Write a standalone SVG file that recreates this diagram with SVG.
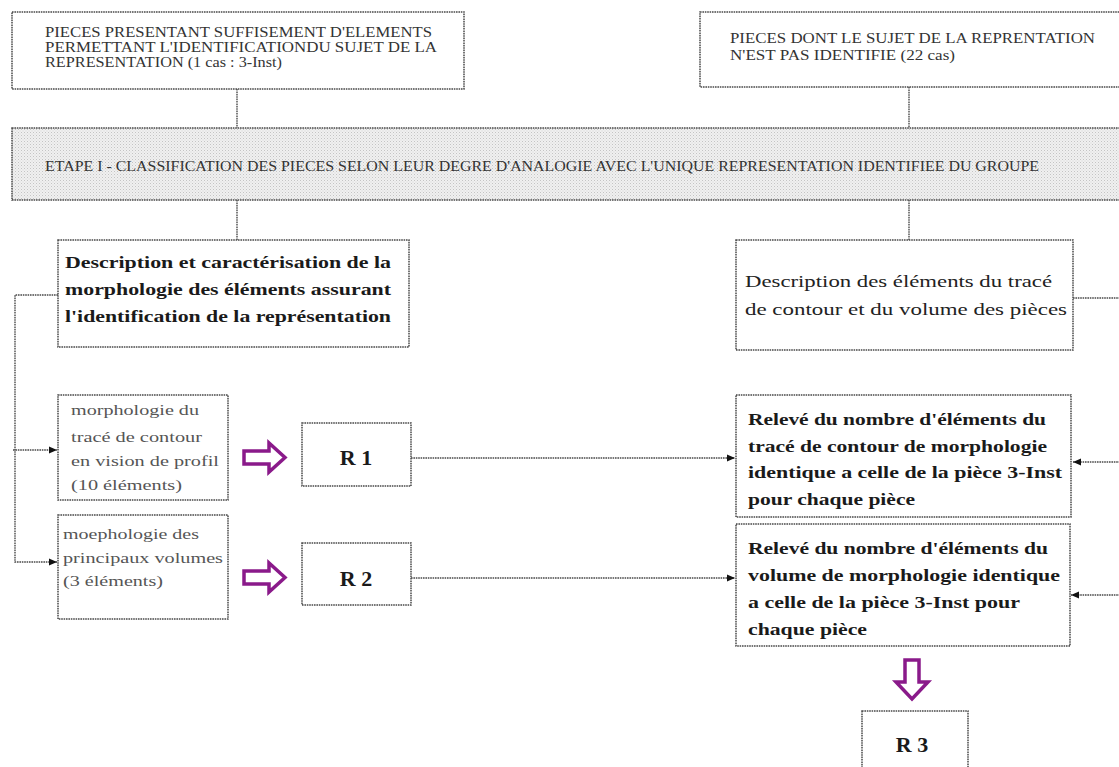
<svg xmlns="http://www.w3.org/2000/svg" width="1119" height="767" viewBox="0 0 1119 767">
<style>
  .box { fill: #ffffff; stroke: #4a4a4a; stroke-width: 1.5; stroke-dasharray: 1.6 0.8; }
  .band { fill: url(#dots); stroke: #4a4a4a; stroke-width: 1.5; stroke-dasharray: 1.6 0.8; }
  .conn { fill: none; stroke: #4a4a4a; stroke-width: 1.4; stroke-dasharray: 1.6 0.8; }
  .caps { font-family: "Liberation Serif", serif; font-size: 14px; fill: #333; }
  .bold { font-family: "Liberation Serif", serif; font-size: 17px; font-weight: bold; fill: #1a1a1a; }
  .reg { font-family: "Liberation Serif", serif; font-size: 17px; fill: #222; }
  .gray { font-family: "Liberation Serif", serif; font-size: 15px; fill: #555; }
  .r { font-family: "Liberation Serif", serif; font-size: 22px; font-weight: bold; fill: #1a1a1a; text-anchor: middle; }
  .purple { fill: #ffffff; stroke: #8a1a8a; stroke-width: 3.5; stroke-linejoin: miter; }
</style>
<defs>
  <pattern id="dots" width="3" height="3" patternUnits="userSpaceOnUse">
    <rect width="3" height="3" fill="#f0f0f0"/>
    <rect x="0" y="0" width="1" height="1" fill="#c4c4c4"/>
    <rect x="1.5" y="1.5" width="1" height="1" fill="#d4d4d4"/>
  </pattern>
  <marker id="arr" markerWidth="9" markerHeight="9" refX="8" refY="4.5" orient="auto" markerUnits="userSpaceOnUse">
    <path d="M0,1 L8,4.5 L0,8 Z" fill="#111"/>
  </marker>
</defs>
<rect width="1119" height="767" fill="#ffffff"/>

<g id="connectors">
  <path class="conn" d="M237,89 V128"/>
  <path class="conn" d="M909,87 V128"/>
  <path class="conn" d="M237,200 V240"/>
  <path class="conn" d="M909,200 V240"/>
  <path class="conn" d="M58,295 H15 V562 H57" marker-end="url(#arr)"/>
  <path class="conn" d="M13,450 H57" marker-end="url(#arr)"/>
  <path class="conn" d="M411,458 H735" marker-end="url(#arr)"/>
  <path class="conn" d="M411,578 H735" marker-end="url(#arr)"/>
  <path class="conn" d="M1073,298 H1125"/>
  <path class="conn" d="M1125,462 H1073" marker-end="url(#arr)"/>
  <path class="conn" d="M1125,595 H1071" marker-end="url(#arr)"/>
</g>

<g id="top-left">
  <rect class="box" x="12" y="12" width="452" height="77"/>
  <text class="caps" x="45" y="37" textLength="387" lengthAdjust="spacingAndGlyphs">PIECES PRESENTANT SUFFISEMENT D'ELEMENTS</text>
  <text class="caps" x="45" y="52" textLength="392" lengthAdjust="spacingAndGlyphs">PERMETTANT L'IDENTIFICATIONDU SUJET DE LA</text>
  <text class="caps" x="45" y="67" textLength="237" lengthAdjust="spacingAndGlyphs">REPRESENTATION (1 cas : 3-Inst)</text>
</g>

<g id="top-right">
  <rect class="box" x="700" y="12" width="440" height="75"/>
  <text class="caps" x="730" y="43" textLength="365" lengthAdjust="spacingAndGlyphs">PIECES DONT LE SUJET DE LA REPRENTATION</text>
  <text class="caps" x="730" y="60" textLength="225" lengthAdjust="spacingAndGlyphs">N'EST PAS IDENTIFIE (22 cas)</text>
</g>

<g id="etape">
  <rect class="band" x="12" y="128" width="1130" height="72"/>
  <text class="caps" x="45" y="171" textLength="994" lengthAdjust="spacingAndGlyphs">ETAPE I - CLASSIFICATION DES PIECES SELON LEUR DEGRE D'ANALOGIE AVEC L'UNIQUE REPRESENTATION IDENTIFIEE DU GROUPE</text>
</g>

<g id="desc-left">
  <rect class="box" x="58" y="240" width="351" height="107"/>
  <text class="bold" x="65" y="268" textLength="326" lengthAdjust="spacingAndGlyphs">Description et caractérisation de la</text>
  <text class="bold" x="65" y="295" textLength="326" lengthAdjust="spacingAndGlyphs">morphologie des éléments assurant</text>
  <text class="bold" x="65" y="322" textLength="326" lengthAdjust="spacingAndGlyphs">l'identification de la représentation</text>
</g>

<g id="desc-right">
  <rect class="box" x="736" y="240" width="337" height="110"/>
  <text class="reg" x="745" y="287" textLength="307" lengthAdjust="spacingAndGlyphs">Description des éléments du tracé</text>
  <text class="reg" x="745" y="315" textLength="322" lengthAdjust="spacingAndGlyphs">de contour et du volume des pièces</text>
</g>

<g id="morpho-contour">
  <rect class="box" x="58" y="395" width="170" height="105"/>
  <text class="gray" x="71" y="415" textLength="128" lengthAdjust="spacingAndGlyphs">morphologie du</text>
  <text class="gray" x="71" y="442" textLength="131" lengthAdjust="spacingAndGlyphs">tracé de contour</text>
  <text class="gray" x="71" y="466" textLength="148" lengthAdjust="spacingAndGlyphs">en vision de profil</text>
  <text class="gray" x="71" y="490" textLength="111" lengthAdjust="spacingAndGlyphs">(10 éléments)</text>
</g>

<g id="morpho-volumes">
  <rect class="box" x="58" y="515" width="170" height="104"/>
  <text class="gray" x="63" y="539" textLength="136" lengthAdjust="spacingAndGlyphs">moephologie des</text>
  <text class="gray" x="63" y="563" textLength="160" lengthAdjust="spacingAndGlyphs">principaux volumes</text>
  <text class="gray" x="63" y="586" textLength="100" lengthAdjust="spacingAndGlyphs">(3 éléments)</text>
</g>

<g id="arrow-r1">
  <polygon class="purple" points="244,451 269,451 269,443 285,457.5 269,472 269,464 244,464"/>
</g>
<g id="arrow-r2">
  <polygon class="purple" points="244,571 269,571 269,563 285,577.5 269,592 269,584 244,584"/>
</g>

<g id="r1">
  <rect class="box" x="302" y="423" width="109" height="63"/>
  <text class="r" x="356" y="465">R 1</text>
</g>
<g id="r2">
  <rect class="box" x="302" y="543" width="109" height="62"/>
  <text class="r" x="356" y="586">R 2</text>
</g>

<g id="releve-contour">
  <rect class="box" x="736" y="395" width="335" height="122"/>
  <text class="bold" x="748" y="425" textLength="298" lengthAdjust="spacingAndGlyphs">Relevé du nombre d'éléments du</text>
  <text class="bold" x="748" y="452" textLength="299" lengthAdjust="spacingAndGlyphs">tracé de contour de morphologie</text>
  <text class="bold" x="748" y="478" textLength="314" lengthAdjust="spacingAndGlyphs">identique a celle de la pièce 3-Inst</text>
  <text class="bold" x="748" y="505" textLength="167" lengthAdjust="spacingAndGlyphs">pour chaque pièce</text>
</g>

<g id="releve-volume">
  <rect class="box" x="736" y="524" width="334" height="122"/>
  <text class="bold" x="748" y="554" textLength="300" lengthAdjust="spacingAndGlyphs">Relevé du nombre d'éléments du</text>
  <text class="bold" x="748" y="581" textLength="312" lengthAdjust="spacingAndGlyphs">volume de morphologie identique</text>
  <text class="bold" x="748" y="608" textLength="272" lengthAdjust="spacingAndGlyphs">a celle de la pièce 3-Inst pour</text>
  <text class="bold" x="748" y="635" textLength="119" lengthAdjust="spacingAndGlyphs">chaque pièce</text>
</g>

<g id="arrow-r3">
  <polygon class="purple" points="905,660 919,660 919,682 928,682 912,699 896,682 905,682"/>
</g>

<g id="r3">
  <rect class="box" x="862" y="711" width="106" height="70"/>
  <text class="r" x="912" y="752">R 3</text>
</g>
</svg>
